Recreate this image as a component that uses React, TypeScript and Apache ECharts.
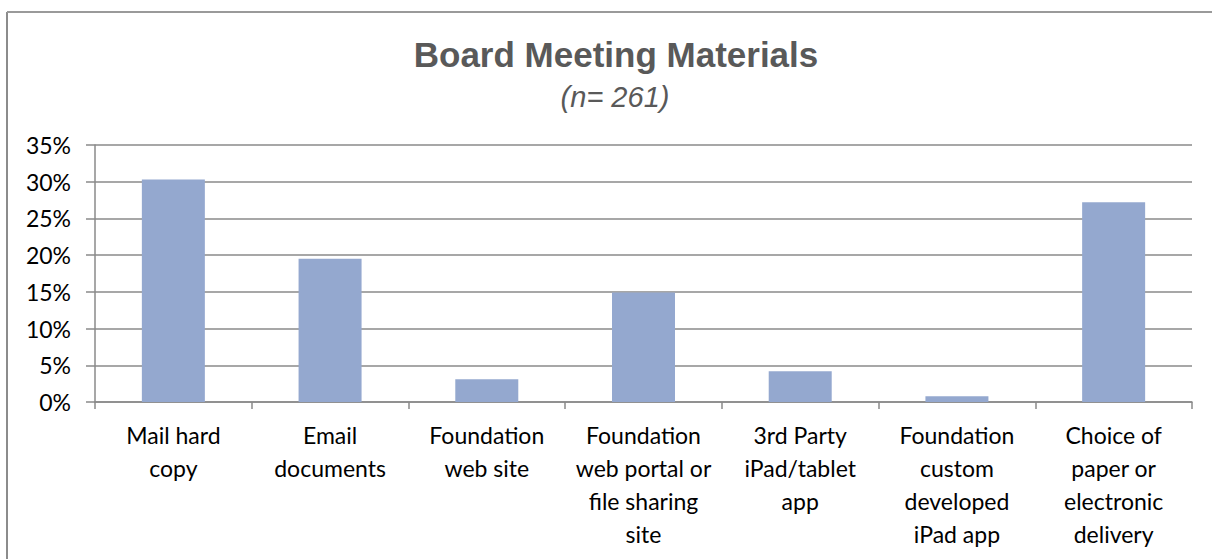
import React, { useEffect, useRef } from "react";
import * as echarts from "echarts";

const categories = [
  "Mail hard\ncopy",
  "Email\ndocuments",
  "Foundation\nweb site",
  "Foundation\nweb portal or\nfile sharing\nsite",
  "3rd Party\niPad/tablet\napp",
  "Foundation\ncustom\ndeveloped\niPad app",
  "Choice of\npaper or\nelectronic\ndelivery",
];
const shares = [0.303, 0.195, 0.031, 0.149, 0.042, 0.008, 0.272];
const yTicks = { min: 0, max: 0.35, interval: 0.05 };
const titleText = "Board Meeting Materials";
const subtitleText = "(n= 261)";

export default function App() {
  const ref = useRef<HTMLDivElement>(null);
  useEffect(() => {
    if (!ref.current) return;
    const chart = echarts.init(ref.current, null, { renderer: "svg" });
    const labelFont = "Lato, 'Open Sans', sans-serif";
    chart.setOption({
      animation: false,
      backgroundColor: "#ffffff",
      grid: { left: 95, right: 20, top: 145, bottom: 157, containLabel: false },
      graphic: [
        { type: "line", shape: { x1: 7, y1: 12, x2: 7, y2: 559 }, style: { stroke: "#8c8c8c", lineWidth: 2 } },
        { type: "line", shape: { x1: 7, y1: 12, x2: 1212, y2: 12 }, style: { stroke: "#9a9a9a", lineWidth: 2 } },
        {
          type: "text",
          x: 616,
          y: 54,
          style: {
            text: titleText,
            font: "bold 35px 'Liberation Sans', Arial, sans-serif",
            fill: "#595959",
            align: "center",
            verticalAlign: "middle",
          },
        },
        {
          type: "text",
          x: 615,
          y: 97,
          style: {
            text: subtitleText,
            font: "italic 29px 'Liberation Sans', Arial, sans-serif",
            fill: "#595959",
            align: "center",
            verticalAlign: "middle",
          },
        },
      ],
      xAxis: {
        type: "category",
        data: categories,
        axisLine: { show: true, lineStyle: { color: "#8a8a8a", width: 1.5 } },
        axisTick: { show: true, length: 7, alignWithLabel: false, lineStyle: { color: "#8a8a8a", width: 1.5 } },
        axisLabel: {
          interval: 0,
          margin: 16,
          color: "#000000",
          fontFamily: labelFont,
          fontSize: 23,
          lineHeight: 33,
          align: "center",
        },
        splitLine: { show: false },
      },
      yAxis: {
        type: "value",
        min: yTicks.min,
        max: yTicks.max,
        interval: yTicks.interval,
        axisLine: { show: true, lineStyle: { color: "#8a8a8a", width: 1.5 } },
        axisTick: { show: true, length: 9, lineStyle: { color: "#8a8a8a", width: 1.5 } },
        axisLabel: {
          margin: 24,
          color: "#000000",
          fontFamily: labelFont,
          fontSize: 23,
          formatter: (v: number) => `${Math.round(v * 100)}%`,
        },
        splitLine: { show: true, lineStyle: { color: "#8a8a8a", width: 1.5 } },
      },
      series: [
        {
          type: "bar",
          data: shares,
          barWidth: 63,
          itemStyle: { color: "#94A8CF" },
        },
      ],
    });
    return () => chart.dispose();
  }, []);
  return (
    <div
      ref={ref}
      style={{ position: "fixed", left: 0, top: 0, width: 1212, height: 559 }}
    />
  );
}
